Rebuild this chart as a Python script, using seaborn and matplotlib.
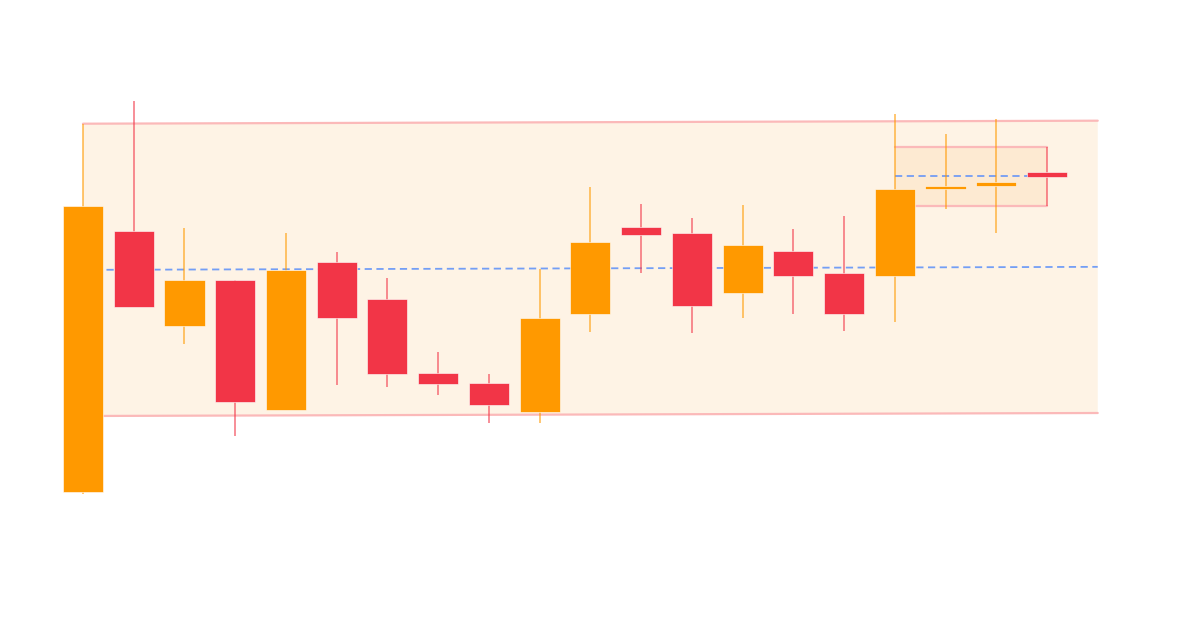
import numpy as np
import pandas as pd
import seaborn as sns
import matplotlib
matplotlib.use("Agg")
import matplotlib.pyplot as plt
from matplotlib.patches import Polygon, Rectangle

# ---- data ----
opens  = [10.77, 36.93, 27.40, 32.00, 19.00, 33.83, 30.10, 22.70, 21.73, 18.83,
          28.60, 37.33, 36.67, 30.67, 34.87, 32.67, 32.37, 41.07, 41.43, 42.80]
highs  = [47.60, 49.90, 37.20, 32.00, 36.73, 34.83, 32.17, 24.77, 22.57, 33.13,
          41.27, 39.60, 38.23, 39.50, 37.13, 38.40, 48.57, 46.57, 48.13, 45.33]
lows   = [10.63, 29.33, 25.60, 16.40, 19.00, 21.47, 21.33, 20.50, 17.73, 17.73,
          26.77, 32.73, 26.67, 28.17, 28.60, 26.87, 27.83, 39.13, 36.67, 39.40]
closes = [39.43, 29.33, 32.00, 19.83, 33.00, 28.23, 22.60, 21.57, 19.47, 28.23,
          35.83, 36.47, 29.40, 35.47, 32.37, 28.60, 41.13, 41.40, 41.80, 42.30]

# trading range (channel) from candle 0 to index 20
band_x = [0, 20]
band_top = [47.63, 47.93]
band_bottom = [18.40, 18.70]

# consolidation box
box_x = [16, 19]
box_top = 45.33
box_bottom = 39.40

UP = "#FF9900"
DOWN = "#F23547"
BAND_FILL = "#FEF3E5"
BOX_FILL = "#FDEAD2"
BAND_LINE = "#FBB9B9"
MID_LINE = "#5B8FF9"

df = pd.DataFrame({"open": opens, "high": highs, "low": lows, "close": closes})
df["x"] = np.arange(len(df))
df["up"] = df["close"] >= df["open"]

sns.set_theme(style="white")
fig = plt.figure(figsize=(12, 6.35), dpi=100)
ax = fig.add_axes([0, 0, 1, 1])
ax.set_axis_off()

# band
poly = Polygon([[band_x[0], band_bottom[0]], [band_x[1], band_bottom[1]],
                [band_x[1], band_top[1]], [band_x[0], band_top[0]]],
               closed=True, facecolor=BAND_FILL, edgecolor="none", zorder=0)
ax.add_patch(poly)
sns.lineplot(x=band_x, y=band_top, ax=ax, color=BAND_LINE, lw=1.6, zorder=1)
sns.lineplot(x=band_x, y=band_bottom, ax=ax, color=BAND_LINE, lw=1.6, zorder=1)
mid = [(a + b) / 2 for a, b in zip(band_top, band_bottom)]
ax.plot(band_x, mid, color=MID_LINE, lw=1.3, dashes=(4, 2.5), alpha=0.85, zorder=2)

# box
ax.add_patch(Rectangle((box_x[0], box_bottom), box_x[1] - box_x[0], box_top - box_bottom,
                       facecolor=BOX_FILL, edgecolor="none", zorder=1))
ax.plot(box_x, [box_top, box_top], color=BAND_LINE, lw=1.6, zorder=1.5)
ax.plot(box_x, [box_bottom, box_bottom], color=BAND_LINE, lw=1.6, zorder=1.5)
ax.plot(box_x, [(box_top + box_bottom) / 2] * 2, color=MID_LINE, lw=1.3,
        dashes=(4, 2.5), alpha=0.85, zorder=2)

# candles
colors = [UP if u else DOWN for u in df["up"]]
ax.vlines(df["x"], df["low"], df["high"], colors=colors, lw=1.3, alpha=0.6, zorder=3)
body_bottom = np.minimum(df["open"], df["close"])
body_h = np.abs(df["close"] - df["open"])
ax.bar(df["x"], body_h, bottom=body_bottom, width=0.79, color=colors,
       edgecolor="white", linewidth=0.4, zorder=4)

px0 = 83.0
step = (1047.0 - 83.0) / 19.0
ax.set_xlim(-px0 / step, (1200 - px0) / step)
ax.set_ylim(-3.5, 60.0)

fig.savefig("out.png", dpi=100, facecolor="white")
